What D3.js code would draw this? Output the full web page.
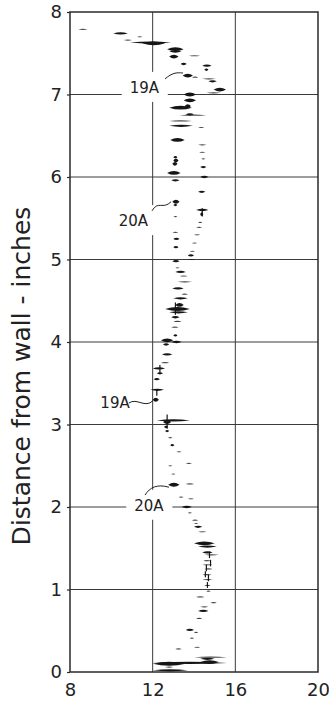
<!DOCTYPE html>
<html>
<head>
<meta charset="utf-8">
<script src="https://cdn.jsdelivr.net/npm/d3@7"></script>
<style>
  html, body { margin: 0; padding: 0; background: #fff; }
  svg { display: block; }
  text { font-family: "DejaVu Sans", "Liberation Sans", sans-serif; fill: #222; }
</style>
</head>
<body>
<svg id="chart" width="329" height="704"></svg>
<script>
// Axis ticks
const xTicks = [8, 12, 16, 20];
const yTicks = [0, 1, 2, 3, 4, 5, 6, 7, 8];

// Particle traces: distance from wall (in), start and end velocity, trace weight (1 faint .. 3 heavy)
const traceY = [
  7.79, 7.74, 7.70, 7.66, 7.63, 7.62, 7.55, 7.52, 7.46, 7.47,
  7.37, 7.35, 7.30, 7.23, 7.21, 7.19, 7.16, 7.06, 7.02, 7.00,
  6.93, 6.84, 6.86, 6.75, 6.76, 6.68, 6.62, 6.60, 6.45, 6.39,
  6.30, 6.24, 6.20, 6.16, 6.12, 6.22, 6.05, 6.00, 5.96, 5.82,
  5.70, 5.66, 5.60, 5.55, 5.52, 5.45, 5.39, 5.33, 5.30, 5.25,
  5.20, 5.15, 5.10, 5.05, 4.98, 5.00, 4.90, 4.85, 4.80, 4.73,
  4.65, 4.58, 4.53, 4.45, 4.40, 4.36, 4.30, 4.25, 4.18, 4.08,
  4.02, 4.00, 3.97, 3.85, 3.75, 3.68, 3.62, 3.55, 3.42, 3.30,
  3.05, 3.03, 2.97, 2.92, 2.84, 2.75, 2.67, 2.53, 2.50, 2.40,
  2.27, 2.28, 2.12, 2.10, 2.00, 1.93, 1.84, 1.80, 1.76, 1.70,
  1.56, 1.52, 1.45, 1.42, 1.35, 1.30, 1.25, 1.18, 1.12, 1.05,
  0.98, 0.91, 0.84, 0.79, 0.74, 0.65, 0.51, 0.48, 0.41, 0.30,
  0.28, 0.18, 0.16, 0.11, 0.10, 0.12, 0.06, 0.02
];
const traceX0 = [
  8.40, 10.10, 11.25, 10.60, 10.90, 11.50, 12.70, 12.80, 12.80, 13.75,
  13.35, 14.40, 14.50, 13.45, 13.90, 14.40, 14.70, 14.95, 14.60, 13.50,
  13.50, 12.80, 13.55, 13.30, 13.60, 12.80, 12.80, 14.20, 12.85, 14.20,
  14.25, 13.00, 13.00, 12.95, 14.30, 14.35, 12.70, 14.30, 12.90, 14.20,
  12.95, 13.00, 14.10, 14.30, 13.00, 14.20, 14.10, 12.95, 14.00, 13.00,
  13.90, 13.00, 13.80, 13.70, 12.95, 13.70, 13.10, 13.10, 13.30, 13.20,
  12.95, 13.40, 13.00, 13.10, 12.60, 12.80, 12.90, 13.00, 12.90, 13.00,
  12.40, 12.90, 12.50, 12.45, 12.40, 12.00, 12.20, 12.05, 11.90, 12.00,
  12.20, 12.50, 12.55, 12.60, 12.75, 12.85, 13.15, 13.60, 12.75, 12.90,
  12.75, 13.60, 13.25, 13.70, 13.40, 13.70, 13.90, 14.00, 14.00, 14.20,
  14.00, 14.20, 14.40, 14.50, 14.45, 14.40, 14.50, 14.40, 14.40, 14.50,
  14.60, 14.10, 14.80, 14.30, 14.20, 14.10, 13.60, 14.00, 13.80, 14.00,
  13.10, 14.00, 14.30, 12.00, 12.00, 14.30, 12.60, 12.00
];
const traceX1 = [
  8.85, 10.80, 11.50, 11.00, 12.90, 12.60, 13.50, 13.40, 13.25, 14.30,
  13.65, 14.85, 14.70, 13.95, 14.20, 15.05, 15.10, 15.55, 15.30, 14.10,
  14.10, 13.90, 13.85, 14.60, 14.00, 13.90, 13.95, 14.50, 13.55, 14.60,
  14.55, 13.20, 13.25, 13.20, 14.60, 14.55, 13.35, 14.70, 13.30, 14.55,
  13.30, 13.20, 14.70, 14.45, 13.20, 14.40, 14.40, 13.25, 14.30, 13.30,
  14.15, 13.25, 14.05, 14.00, 13.30, 14.05, 13.30, 13.60, 13.70, 13.90,
  13.50, 13.70, 13.70, 13.50, 13.80, 13.70, 13.30, 13.40, 13.25, 13.20,
  13.00, 13.40, 12.80, 12.95, 12.80, 12.60, 12.50, 12.35, 12.55, 12.30,
  13.80, 12.90, 12.75, 12.80, 12.95, 13.05, 13.40, 13.90, 12.95, 13.10,
  13.30, 14.00, 13.50, 14.00, 13.90, 13.90, 14.20, 14.20, 14.40, 14.60,
  15.00, 15.10, 14.90, 15.20, 14.80, 14.90, 14.90, 14.85, 14.90, 14.80,
  14.80, 14.50, 15.10, 14.70, 14.70, 14.40, 14.00, 14.20, 14.00, 14.30,
  13.40, 15.60, 15.00, 15.60, 13.60, 15.20, 13.00, 13.70
];
const traceWeight = [
  1, 2, 1, 1, 2, 3, 3, 2, 3, 1,
  2, 2, 2, 3, 1, 1, 2, 3, 1, 3,
  3, 3, 3, 1, 2, 1, 2, 1, 3, 1,
  1, 2, 3, 3, 2, 1, 3, 2, 2, 2,
  3, 2, 2, 3, 1, 1, 1, 1, 1, 2,
  1, 2, 1, 2, 2, 1, 1, 2, 1, 1,
  2, 1, 2, 3, 3, 2, 2, 1, 1, 2,
  3, 2, 2, 2, 1, 2, 2, 2, 2, 3,
  2, 3, 2, 2, 1, 2, 1, 1, 1, 1,
  3, 1, 1, 1, 2, 1, 1, 1, 2, 1,
  3, 2, 2, 1, 1, 1, 1, 1, 1, 1,
  1, 1, 1, 1, 2, 1, 2, 1, 1, 1,
  1, 1, 2, 2, 3, 3, 1, 2
];

// Short vertical flecks crossing some traces: velocity, lower and upper distance
const fleckX = [12.70, 13.10, 14.40, 12.20, 14.60, 14.70, 14.80, 14.65, 14.75, 14.55, 12.35];
const fleckY0 = [2.95, 4.33, 5.52, 3.35, 1.22, 1.10, 1.28, 1.02, 1.38, 1.15, 3.62];
const fleckY1 = [3.12, 4.48, 5.62, 3.43, 1.30, 1.18, 1.36, 1.09, 1.46, 1.22, 3.72];

// Run labels and their leader curves (label centre, then cubic curve points)
const noteText = ["19A", "20A", "19A", "20A"];
const noteX = [11.60, 11.07, 10.18, 11.82];
const noteY = [7.085, 5.47, 3.27, 2.02];
const noteLeader = [
  [[12.60, 7.19], [12.94, 7.26], [13.13, 7.27], [13.47, 7.26]],
  [[11.97, 5.59], [12.26, 5.72], [12.50, 5.60], [12.89, 5.70]],
  [[10.85, 3.26], [11.24, 3.33], [11.63, 3.19], [12.02, 3.29]],
  [[11.63, 2.145], [11.87, 2.24], [12.21, 2.28], [12.79, 2.24]]
];

const margin = { left: 70, right: 11, top: 12, bottom: 32 };
const W = 329, H = 704;

const x = d3.scaleLinear().domain([8, 20]).range([margin.left, W - margin.right]);
const y = d3.scaleLinear().domain([0, 8]).range([H - margin.bottom, margin.top]);
const halfThick = d3.scaleOrdinal().domain([1, 2, 3]).range([0.6, 1.15, 1.9]);

const svg = d3.select("#chart");

// Grid
const grid = svg.append("g").attr("stroke", "#3a3a3a").attr("stroke-width", 1);
grid.selectAll("line.h").data(yTicks.filter(d => d > 0 && d < 8)).join("line")
  .attr("class", "h")
  .attr("x1", x(8)).attr("x2", x(20))
  .attr("y1", d => y(d)).attr("y2", d => y(d));
grid.selectAll("line.v").data(xTicks.filter(d => d > 8 && d < 20)).join("line")
  .attr("class", "v")
  .attr("x1", d => x(d)).attr("x2", d => x(d))
  .attr("y1", y(0)).attr("y2", y(8));

// Label knock-outs in the grid
const notes = svg.append("g");
const noteG = notes.selectAll("g").data(noteText.map((t, i) => i)).join("g");
noteG.append("text")
  .attr("x", i => x(noteX[i]))
  .attr("y", i => y(noteY[i]))
  .attr("dy", "0.36em")
  .attr("text-anchor", "middle")
  .attr("font-size", 15)
  .text(i => noteText[i]);
noteG.each(function() {
  const g = d3.select(this);
  const b = g.select("text").node().getBBox();
  g.insert("rect", "text")
    .attr("x", b.x - 8).attr("y", b.y - 7)
    .attr("width", b.width + 16).attr("height", b.height + 12)
    .attr("fill", "#fff");
});

// Traces
const traces = svg.append("g").attr("fill", "#151515");
traces.selectAll("path").data(traceY.map((d, i) => i)).join("path")
  .attr("d", i => {
    const x0 = x(traceX0[i]), x1 = x(traceX1[i]), yy = y(traceY[i]);
    const h = halfThick(traceWeight[i]);
    const p = d3.path();
    const xm = (x0 + x1) / 2;
    p.moveTo(x0, yy);
    p.quadraticCurveTo(xm, yy - 2 * h, x1, yy);
    p.quadraticCurveTo(xm, yy + 2 * h, x0, yy);
    p.closePath();
    return p.toString();
  })
  .attr("opacity", i => traceWeight[i] === 1 ? 0.8 : 1);

svg.append("g").attr("stroke", "#151515").attr("stroke-width", 1.2)
  .selectAll("line").data(fleckX.map((d, i) => i)).join("line")
  .attr("x1", i => x(fleckX[i])).attr("x2", i => x(fleckX[i]))
  .attr("y1", i => y(fleckY0[i])).attr("y2", i => y(fleckY1[i]));

// Leader curves
svg.append("g").attr("fill", "none").attr("stroke", "#222").attr("stroke-width", 1)
  .selectAll("path").data(noteLeader).join("path")
  .attr("d", pts => {
    const p = d3.path();
    p.moveTo(x(pts[0][0]), y(pts[0][1]));
    p.bezierCurveTo(x(pts[1][0]), y(pts[1][1]), x(pts[2][0]), y(pts[2][1]), x(pts[3][0]), y(pts[3][1]));
    return p.toString();
  });
notes.lower();
grid.lower();

// Frame
svg.append("rect")
  .attr("x", x(8)).attr("y", y(8))
  .attr("width", x(20) - x(8)).attr("height", y(0) - y(8))
  .attr("fill", "none").attr("stroke", "#2a2a2a").attr("stroke-width", 1.5);

// Axes
const yAxis = svg.append("g")
  .attr("transform", `translate(${x(8)},0)`)
  .call(d3.axisLeft(y).tickValues(yTicks).tickFormat(d3.format("d")).tickSize(3).tickPadding(5));
const xAxis = svg.append("g")
  .attr("transform", `translate(0,${y(0)})`)
  .call(d3.axisBottom(x).tickValues(xTicks).tickFormat(d3.format("d")).tickSize(0).tickPadding(11));
[yAxis, xAxis].forEach(a => {
  a.select(".domain").remove();
  a.selectAll(".tick line").attr("stroke", "#2a2a2a").attr("stroke-width", 1.2);
  a.selectAll(".tick text").attr("font-size", 18).attr("fill", "#222")
    .style("font-family", '"DejaVu Sans", sans-serif');
});

// Axis title
svg.append("text")
  .attr("transform", `translate(30,${(y(0) + y(8)) / 2 + 34}) rotate(-90)`)
  .attr("text-anchor", "middle")
  .attr("font-size", 25)
  .text("Distance from wall - inches");
</script>
</body>
</html>
